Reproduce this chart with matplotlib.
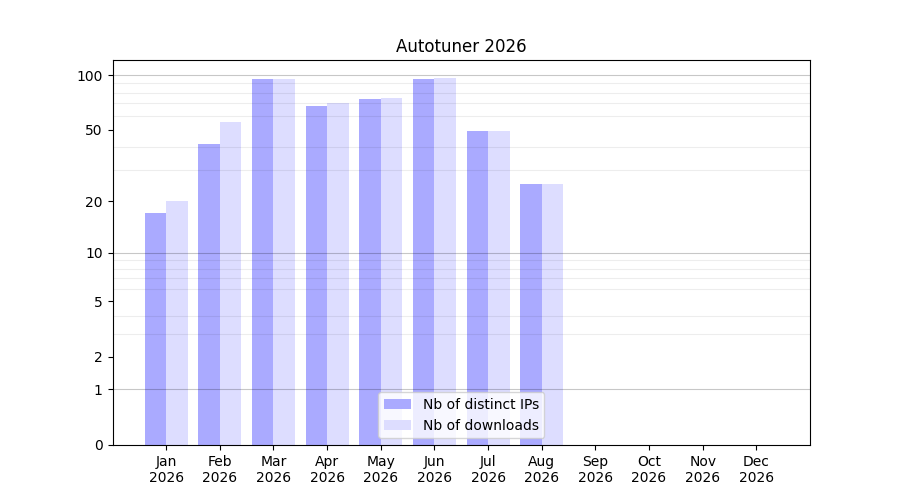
import numpy as np
import matplotlib
matplotlib.use("Agg")
import matplotlib.pyplot as plt

# monthly stats
months = ["Jan", "Feb", "Mar", "Apr", "May", "Jun",
          "Jul", "Aug", "Sep", "Oct", "Nov", "Dec"]
year = "2026"
distinct_ips = [17, 42, 95, 68, 74, 95, 49, 25, 0, 0, 0, 0]
downloads = [20, 55, 95, 70, 75, 96, 49, 25, 0, 0, 0, 0]

ytick_values = [0, 1, 2, 5, 10, 20, 50, 100]
minor_values = list(range(2, 10)) + list(range(20, 100, 10))
decade_values = [1, 10, 100]


def forward(v):
    return np.log10(1 + np.asarray(v, dtype=float))


def inverse(v):
    return 10 ** np.asarray(v, dtype=float) - 1


fig, ax = plt.subplots(figsize=(9, 5), dpi=100)

x = np.arange(len(months))
width = 0.4
ax.bar(x - width / 2, distinct_ips, width, color="#aaaaff", label="Nb of distinct IPs")
ax.bar(x + width / 2, downloads, width, color="#ddddff", label="Nb of downloads")

ax.set_yscale("function", functions=(forward, inverse))
ax.set_ylim(0, 121)
ax.set_xlim(-1, 12)

ax.set_yticks(ytick_values)
ax.set_yticklabels([str(v) for v in ytick_values])
ax.set_yticks(minor_values, minor=True)
ax.tick_params(axis="y", which="minor", length=0)
ax.grid(True, axis="y", which="minor", color="black", alpha=0.07, linewidth=0.8)
for v in decade_values:
    ax.axhline(v, color="black", alpha=0.22, linewidth=0.8, zorder=1.5)

ax.set_xticks(x)
ax.set_xticklabels([m + "\n" + year for m in months])

ax.set_title("Autotuner 2026")
ax.legend(loc="lower center")

plt.savefig("out.png")
